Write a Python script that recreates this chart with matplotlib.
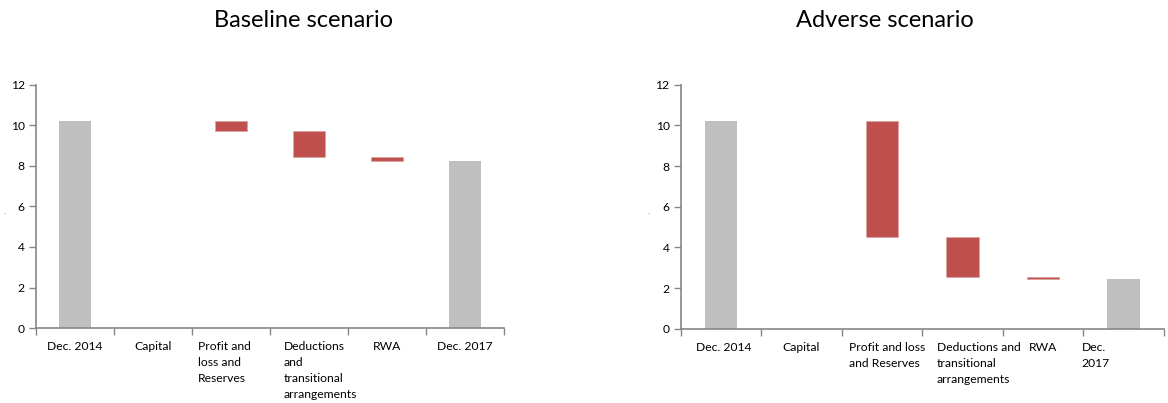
'''
Waterfall charts of capital ratio, baseline and adverse scenario
'''

import matplotlib.pyplot as plt
from matplotlib.transforms import blended_transform_factory

plt.rcParams['font.family'] = ['Lato', 'DejaVu Sans']

# ========================================================================
# data
# ========================================================================
categories = ['Dec. 2014', 'Capital', 'Profit and loss and Reserves',
              'Deductions and transitional arrangements', 'RWA', 'Dec. 2017']

# baseline: start level, changes, end level
base_start = 10.2
base_changes = [0.0, -0.45, -1.3, -0.2]
base_end = 8.25

# adverse
adv_start = 10.22
adv_changes = [0.0, -5.72, -1.97, -0.1]
adv_end = 2.43

# wrapped tick labels as they appear in each panel
base_labels = ['Dec. 2014', 'Capital', 'Profit and\nloss and\nReserves',
               'Deductions\nand\ntransitional\narrangements', 'RWA', 'Dec. 2017']
adv_labels = ['Dec. 2014', 'Capital', 'Profit and loss\nand Reserves',
              'Deductions and\ntransitional\narrangements', 'RWA', 'Dec.\n2017']

# ========================================================================
# styles
# ========================================================================
grey_bar = '#bfbfbf'
red_bar = '#c0504d'
axis_col = '#868686'

# label anchors (x offset from category centre, alignment)
base_anchor = [(0, 'center'), (0, 'center'), (-0.42, 'left'),
               (-0.32, 'left'), (0, 'center'), (0, 'center')]
adv_anchor = [(0.04, 'center'), (0, 'center'), (-0.41, 'left'),
              (-0.32, 'left'), (0, 'center'), (-0.52, 'left')]


def waterfall(ax, start, changes, end, labels, anchors, title_x, title, dot_x):
    n = len(categories)
    x = list(range(n))
    # totals
    ax.bar(x[0], start, width=0.4, color=grey_bar)
    ax.bar(x[-1], end, width=0.4, color=grey_bar)
    # floating bars
    level = start
    for i, d in enumerate(changes):
        if d != 0:
            ax.bar(x[i + 1], abs(d), bottom=min(level, level + d), width=0.4,
                   color=red_bar, edgecolor='#d9a3a2', linewidth=0.6)
        level = level + d

    ax.set_xlim(-0.5, n - 0.5)
    ax.set_ylim(0, 12)
    ax.set_yticks([0, 2, 4, 6, 8, 10, 12])
    ax.set_xticks([i - 0.5 for i in range(n + 1)])
    ax.set_xticklabels([])
    ax.tick_params(axis='both', direction='out', length=5, width=1,
                   color=axis_col, labelsize=8.7, labelcolor='black')
    ax.tick_params(axis='y', pad=3)

    for s in ['top', 'right']:
        ax.spines[s].set_visible(False)
    for s in ['left', 'bottom']:
        ax.spines[s].set_color(axis_col)
        ax.spines[s].set_linewidth(1.2)

    trans = blended_transform_factory(ax.transData, ax.transAxes)
    for i, lab in enumerate(labels):
        off, ha = anchors[i]
        ax.text(i + off, -0.055, lab, transform=trans, ha=ha, va='top',
                fontsize=8.7, linespacing=1.55, multialignment='left')

    # tiny axis title dot
    ax.figure.text(dot_x, 0.475, '.', fontsize=6, color='#888888',
                   ha='left', va='center')
    ax.figure.text(title_x, 0.948, title, ha='center', va='center', fontsize=17)


# ========================================================================
# plot
# ========================================================================
fig = plt.figure(figsize=(11.68, 4.03), dpi=100)
ax1 = fig.add_axes([0.0308, 0.1861, 0.4007, 0.603])
ax2 = fig.add_axes([0.5828, 0.1844, 0.4135, 0.6055])

waterfall(ax1, base_start, base_changes, base_end, base_labels, base_anchor,
          0.26, 'Baseline scenario', 0.003)
waterfall(ax2, adv_start, adv_changes, adv_end, adv_labels, adv_anchor,
          0.758, 'Adverse scenario', 0.554)

plt.savefig('out.png', dpi=100)
